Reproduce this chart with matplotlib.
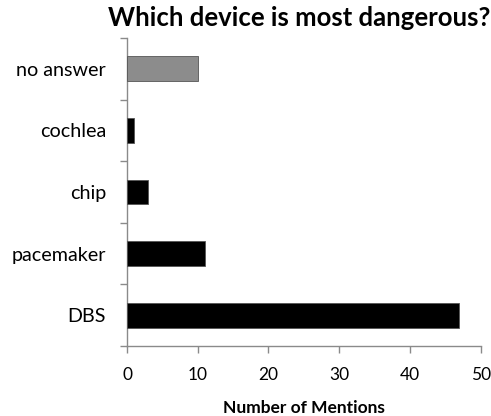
import matplotlib
matplotlib.use("Agg")
import matplotlib.pyplot as plt
from matplotlib.ticker import FixedLocator, NullFormatter

plt.rcParams['font.family'] = ['Lato', 'DejaVu Sans']

categories = ["DBS", "pacemaker", "chip", "cochlea", "no answer"]
mentions = [47, 11, 3, 1, 10]
bar_colors = ["#000000", "#000000", "#000000", "#000000", "#8c8c8c"]
x_ticks = [0, 10, 20, 30, 40, 50]

fig = plt.figure(figsize=(4.91, 4.16), dpi=100)
ax = fig.add_axes([0.2587, 0.168, 0.979 - 0.2587, 0.909 - 0.168])

ypos = list(range(len(categories)))
ax.barh(ypos, mentions, height=0.4, color=bar_colors,
        edgecolor="#555555", linewidth=0.6, zorder=3)

ax.set_xlim(0, 50)
ax.set_ylim(-0.5, len(categories) - 0.5)
ax.set_xticks(x_ticks)
ax.set_yticks(ypos)
ax.set_yticklabels(categories)
ax.yaxis.set_minor_locator(FixedLocator([i - 0.5 for i in range(len(categories) + 1)]))
ax.yaxis.set_minor_formatter(NullFormatter())

spine_col = "#8a8a8a"
for side in ("top", "right"):
    ax.spines[side].set_visible(False)
for side in ("left", "bottom"):
    ax.spines[side].set_color(spine_col)
    ax.spines[side].set_linewidth(1.0)

ax.tick_params(axis="y", which="major", length=0, pad=15, labelsize=14.2)
ax.tick_params(axis="y", which="minor", length=5, width=1.0, color=spine_col, direction="out")
ax.tick_params(axis="x", which="major", length=5, width=1.0, color=spine_col,
               direction="out", pad=10, labelsize=12.5)

ax.set_xlabel("Number of Mentions", fontsize=12.5, fontweight="bold", labelpad=12)
fig.text(0.609, 0.957, "Which device is most dangerous?", ha="center", va="center",
         fontsize=18.5, fontweight="bold")

fig.savefig("out.png", dpi=100)
